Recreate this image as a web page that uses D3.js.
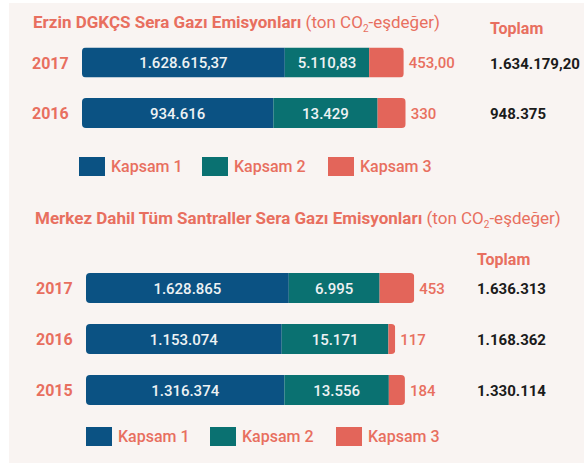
<!DOCTYPE html>
<html>
<head>
<meta charset="utf-8">
<script src="https://cdn.jsdelivr.net/npm/d3@7"></script>
<style>
  body { margin: 0; background: #fff; }
  svg { display: block; font-family: Roboto, "DejaVu Sans", sans-serif; }
</style>
</head>
<body>
<script>
// chart data
const scopes = ['Kapsam 1', 'Kapsam 2', 'Kapsam 3'];

// Erzin DGKÇS
const erzinYears = ['2017', '2016'];
const erzinScope1 = [1628615.37, 934616];
const erzinScope2 = [5110.83, 13429];
const erzinScope3 = [453.00, 330];
const erzinTotals = [1634179.20, 948375];
const erzinDecimals = [2, 0];

// all plants incl. headquarters
const allYears = ['2017', '2016', '2015'];
const allScope1 = [1628865, 1153074, 1316374];
const allScope2 = [6995, 15171, 13556];
const allScope3 = [453, 117, 184];
const allTotals = [1636313, 1168362, 1330114];
const allDecimals = [0, 0, 0];

// styling
const colors = ['#0b5283', '#0a7171', '#e3655a'];
const coral = '#e86f5f';
const W = 584, H = 463;

const tr = d3.formatLocale({decimal: ',', thousands: '.', grouping: [3], currency: ['', '']});
const num = (v, dec) => tr.format(',.' + dec + 'f')(v);

// segment widths: log scale (infographic style bars)
const widthScale = d3.scaleLog().domain([84, 2e6]).range([0, 207]);

const svg = d3.select('body').append('svg').attr('width', W).attr('height', H);
svg.append('rect').attr('x', 9).attr('y', 3).attr('width', W - 9).attr('height', H - 3).attr('fill', '#f9f4f2');

function drawTitle(g, x, y, bold) {
  let t = g.append('text').attr('x', x).attr('y', y).attr('fill', coral).style('font-size', '17px');
  t.append('tspan').attr('font-weight', 700).text(bold + ' ');
  t.append('tspan').attr('font-weight', 400).text('(ton CO');
  t.append('tspan').attr('font-weight', 400).attr('dy', 4).style('font-size', '10px').text('2');
  t.append('tspan').attr('font-weight', 400).attr('dy', -4).text('-eşdeğer)');
}

function drawPanel(cfg) {
  let g = svg.append('g');
  drawTitle(g, cfg.titleX, cfg.titleY, cfg.title);
  g.append('text').attr('x', cfg.totalX).attr('y', cfg.toplamY)
    .attr('fill', coral).attr('font-weight', 700).style('font-size', '16px').text('Toplam');

  let y = d3.scalePoint().domain(cfg.years).range(cfg.rowRange);
  let barH = 30;

  cfg.years.forEach(function(year, i) {
    let vals = [cfg.s1[i], cfg.s2[i], cfg.s3[i]];
    let widths = vals.map(v => widthScale(v));
    let cy = y(year);
    let x0 = cfg.barX;
    let total = d3.sum(widths);
    let clipId = 'clip-' + cfg.id + '-' + year;
    g.append('clipPath').attr('id', clipId).append('rect')
      .attr('x', x0).attr('y', cy - barH / 2).attr('width', total).attr('height', barH).attr('rx', 4);
    let bar = g.append('g').attr('clip-path', 'url(#' + clipId + ')');
    let cx = x0;
    widths.forEach(function(w, k) {
      bar.append('rect').attr('x', cx).attr('y', cy - barH / 2)
        .attr('width', w).attr('height', barH).attr('fill', colors[k]);
      if (k < 2) {
        g.append('text').attr('x', cx + w / 2).attr('y', cy + 5.5)
          .attr('text-anchor', 'middle').attr('fill', '#eef2f4')
          .attr('font-weight', 500).style('font-size', '15px')
          .text(num(vals[k], cfg.dec[i]));
      }
      cx += w;
    });
    // scope 3 value sits outside the bar
    g.append('text').attr('x', cx + 5).attr('y', cy + 5.5).attr('fill', coral)
      .attr('font-weight', 500).style('font-size', '15px').text(num(vals[2], cfg.dec[i]));
    // year
    g.append('text').attr('x', cfg.yearX).attr('y', cy + 6).attr('fill', coral)
      .attr('font-weight', 700).style('font-size', '16px').text(year);
    // total
    g.append('text').attr('x', cfg.totalX).attr('y', cy + 6).attr('fill', '#1b1b1b')
      .attr('font-weight', 700).style('font-size', '15px').text(num(cfg.totals[i], cfg.dec[i]));
  });

  // legend
  let lg = g.selectAll('.leg').data(scopes).enter().append('g')
    .attr('transform', (d, i) => 'translate(' + cfg.legendX[i] + ',' + cfg.legendY + ')');
  lg.append('rect').attr('width', 26).attr('height', 19).attr('fill', (d, i) => colors[i]);
  lg.append('text').attr('x', 32).attr('y', 15).attr('fill', coral)
    .attr('font-weight', 500).style('font-size', '16px').text(d => d);
}

drawPanel({
  id: 'erzin', title: 'Erzin DGKÇS Sera Gazı Emisyonları', titleX: 33, titleY: 28,
  years: erzinYears, s1: erzinScope1, s2: erzinScope2, s3: erzinScope3,
  totals: erzinTotals, dec: erzinDecimals,
  rowRange: [62.5, 113], barX: 82, yearX: 32, totalX: 490, toplamY: 34,
  legendX: [79, 202, 328], legendY: 157
});

drawPanel({
  id: 'all', title: 'Merkez Dahil Tüm Santraller Sera Gazı Emisyonları', titleX: 35, titleY: 224,
  years: allYears, s1: allScope1, s2: allScope2, s3: allScope3,
  totals: allTotals, dec: allDecimals,
  rowRange: [288, 390], barX: 86, yearX: 36, totalX: 477, toplamY: 265,
  legendX: [86, 210, 336], legendY: 427
});
</script>
</body>
</html>
